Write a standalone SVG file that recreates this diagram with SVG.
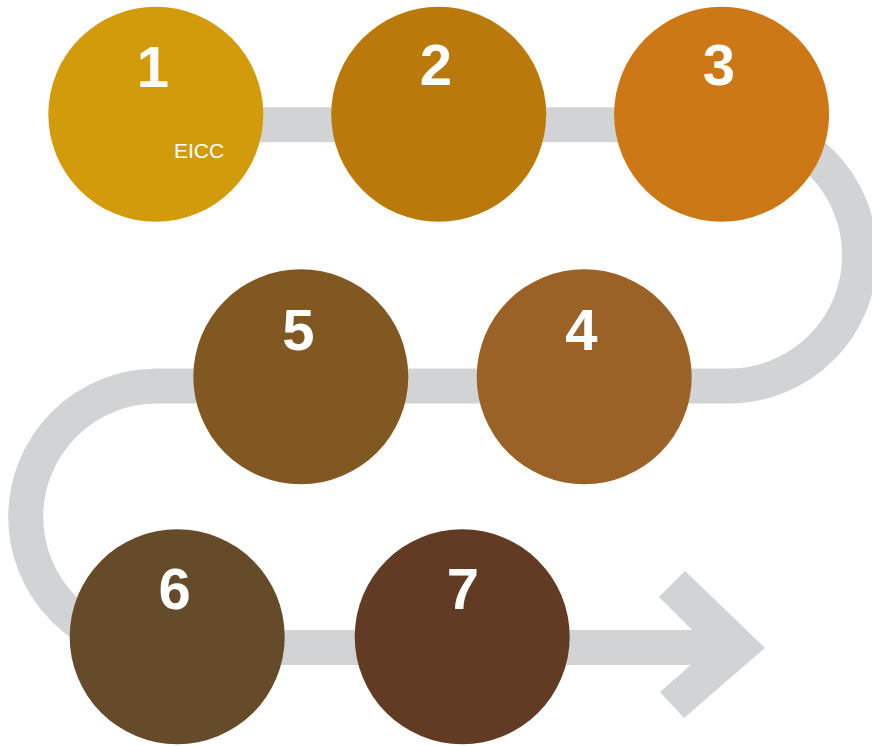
<svg xmlns="http://www.w3.org/2000/svg" width="872" height="746" viewBox="0 0 872 746">
<style>
.track{fill:none;stroke:#d1d3d4;stroke-width:35}
.head{fill:#d1d3d4}
.num{font-family:"Liberation Sans",Arial,sans-serif;font-weight:bold;font-size:58px;fill:#ffffff;text-anchor:middle}
.lbl{font-family:"Liberation Sans",Arial,sans-serif;font-size:21px;fill:#ffffff}
</style>
<rect width="872" height="746" fill="#ffffff"/>
<g id="connectors">
<path class="track" d="M 155 124.7 H 729 A 130.65 130.65 0 0 1 729 386 H 156.5 A 130.75 130.75 0 0 0 156.5 647.5 H 712"/>
<polygon class="head" points="685,571 765,648 684,718 660,692 710,648 659,597"/>
</g>
<g id="node1">
<circle cx="155.8" cy="114.3" r="107.5" fill="#d19b0c"/>
<text class="num" x="153" y="87">1</text>
<text class="lbl" x="174" y="158.3">EICC</text>
</g>
<g id="node2">
<circle cx="438.7" cy="114.3" r="107.5" fill="#b97a0b"/>
<text class="num" x="436" y="85">2</text>
</g>
<g id="node3">
<circle cx="721.6" cy="114.3" r="107.5" fill="#cc7816"/>
<text class="num" x="719" y="85">3</text>
</g>
<g id="node4">
<circle cx="584.2" cy="376.7" r="107.5" fill="#9a6226"/>
<text class="num" x="581.5" y="349.5">4</text>
</g>
<g id="node5">
<circle cx="300.8" cy="376.7" r="107.5" fill="#825822"/>
<text class="num" x="298.3" y="349.5">5</text>
</g>
<g id="node6">
<circle cx="177.2" cy="636.7" r="107.5" fill="#654b2a"/>
<text class="num" x="174.7" y="609">6</text>
</g>
<g id="node7">
<circle cx="462.2" cy="636.7" r="107.5" fill="#613b24"/>
<text class="num" x="463" y="608.5">7</text>
</g>
</svg>
